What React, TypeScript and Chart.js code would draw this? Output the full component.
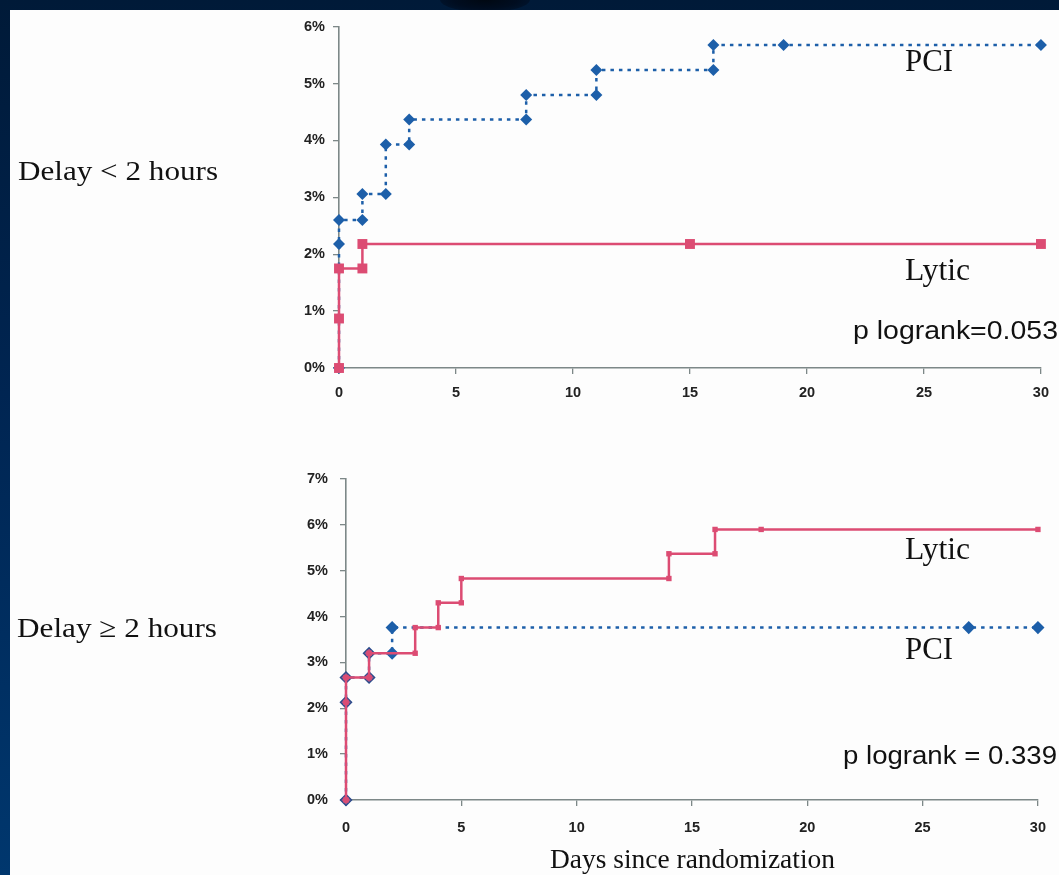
import React, { useEffect, useLayoutEffect, useRef } from 'react';
import { Chart, registerables } from 'chart.js';

Chart.register(...registerables);

// ---------- Data (days since randomization, cumulative event %) ----------
const TOP_PCI_DAYS = [0, 0, 0, 1, 1, 2, 2, 3, 3, 8, 8, 11, 11, 16, 16, 19, 30];
const TOP_PCI_PCT = [0, 2.18, 2.6, 2.6, 3.06, 3.06, 3.93, 3.93, 4.37, 4.37, 4.8, 4.8, 5.24, 5.24, 5.68, 5.68, 5.68];
const TOP_LYTIC_DAYS = [0, 0, 0, 1, 1, 15, 30];
const TOP_LYTIC_PCT = [0, 0.87, 1.75, 1.75, 2.18, 2.18, 2.18];

const BOT_PCI_DAYS = [0, 0, 0, 1, 1, 2, 2, 27, 30];
const BOT_PCI_PCT = [0, 2.13, 2.67, 2.67, 3.2, 3.2, 3.76, 3.76, 3.76];
const BOT_LYTIC_DAYS = [0, 0, 0, 1, 1, 3, 3, 4, 4, 5, 5, 14, 14, 16, 16, 18, 30];
const BOT_LYTIC_PCT = [0, 2.13, 2.67, 2.67, 3.2, 3.2, 3.76, 3.76, 4.3, 4.3, 4.83, 4.83, 5.37, 5.37, 5.9, 5.9, 5.9];

const X_MIN = 0;
const X_MAX = 30;
const X_STEP = 5;
const TOP_Y_MAX = 6;
const BOT_Y_MAX = 7;
const Y_STEP = 1;

const BLUE = '#1d5fa9';
const RED = '#dc4c73';
const MAUVE = '#b25887';
const AXIS = '#7d8888';
const SANS = "'Liberation Sans', Arial, sans-serif";
const SERIF = "'Liberation Serif', 'Times New Roman', serif";

const pts = (xs: number[], ys: number[]) => xs.map((x, i) => ({ x, y: ys[i] }));

function makeOptions(o: {
  yMax: number; yWidth: number; xHeight: number; padTop: number; padRight: number;
  xPad: number; yPad: number;
}): any {
  const tickFont = { family: SANS, size: 14.5, weight: 'bold' };
  return {
    responsive: false,
    animation: false,
    events: [],
    layout: { padding: { left: 0, right: o.padRight, top: o.padTop, bottom: 0 } },
    plugins: { legend: { display: false }, tooltip: { enabled: false } },
    scales: {
      x: {
        type: 'linear',
        min: X_MIN,
        max: X_MAX,
        ticks: { stepSize: X_STEP, padding: o.xPad, color: '#222', font: tickFont },
        grid: { display: true, drawOnChartArea: false, drawTicks: true, tickLength: 6, color: AXIS, lineWidth: 1.3 },
        border: { display: true, color: AXIS, width: 1.6 },
        afterFit: (s: any) => { s.height = o.xHeight; },
      },
      y: {
        type: 'linear',
        min: 0,
        max: o.yMax,
        ticks: {
          stepSize: Y_STEP, padding: o.yPad, color: '#222', font: tickFont,
          callback: (v: any) => `${v}%`,
        },
        grid: { display: true, drawOnChartArea: false, drawTicks: true, tickLength: 6, color: AXIS, lineWidth: 1.3 },
        border: { display: true, color: AXIS, width: 1.6 },
        afterFit: (s: any) => { s.width = o.yWidth; },
      },
    },
  };
}

function Label(props: { text: string; x: number; baseline: number; size: number; family: string; width: number }) {
  const ref = useRef<HTMLDivElement>(null);
  const k = props.family === SERIF ? 0.8375 : 0.8465;
  useLayoutEffect(() => {
    const el = ref.current;
    if (!el) return;
    el.style.transform = 'none';
    const w = el.getBoundingClientRect().width;
    if (w > 0) el.style.transform = `scaleX(${props.width / w})`;
  }, [props.text, props.width]);
  return (
    <div
      ref={ref}
      style={{
        position: 'absolute',
        left: props.x,
        top: props.baseline - k * props.size,
        fontFamily: props.family,
        fontSize: props.size,
        lineHeight: `${props.size}px`,
        whiteSpace: 'nowrap',
        color: '#111',
        transformOrigin: '0 0',
      }}
    >
      {props.text}
    </div>
  );
}

export default function App() {
  const topRef = useRef<HTMLCanvasElement>(null);
  const botRef = useRef<HTMLCanvasElement>(null);

  useEffect(() => {
    const top = new Chart(topRef.current as HTMLCanvasElement, {
      type: 'line',
      data: {
        datasets: [
          {
            label: 'Lytic',
            data: pts(TOP_LYTIC_DAYS, TOP_LYTIC_PCT),
            borderColor: RED,
            backgroundColor: RED,
            borderWidth: 2.5,
            pointStyle: 'rect',
            pointRadius: 7,
            pointBorderWidth: 0,
            pointBackgroundColor: RED,
            tension: 0,
            clip: false,
          } as any,
          {
            label: 'PCI',
            data: pts(TOP_PCI_DAYS, TOP_PCI_PCT),
            borderColor: BLUE,
            backgroundColor: BLUE,
            borderWidth: 2.5,
            borderDash: [3.5, 5],
            pointStyle: 'rectRot',
            pointRadius: 6,
            pointBorderWidth: 0,
            pointBackgroundColor: BLUE,
            tension: 0,
            clip: false,
          } as any,
        ],
      },
      options: makeOptions({ yMax: TOP_Y_MAX, yWidth: 329, xHeight: 52, padTop: 16, padRight: 16, xPad: 10, yPad: 8 }),
    });

    const pciFill = BOT_PCI_DAYS.map((d) => (d <= 1 ? MAUVE : BLUE));
    const pciBorder = BOT_PCI_DAYS.map((d) => (d <= 1 ? '#2b4c8c' : BLUE));
    const bot = new Chart(botRef.current as HTMLCanvasElement, {
      type: 'line',
      data: {
        datasets: [
          {
            label: 'Lytic',
            data: pts(BOT_LYTIC_DAYS, BOT_LYTIC_PCT),
            borderColor: RED,
            backgroundColor: RED,
            borderWidth: 2.5,
            pointStyle: 'rect',
            pointRadius: 3.8,
            pointBorderWidth: 0,
            pointBackgroundColor: RED,
            tension: 0,
            clip: false,
          } as any,
          {
            label: 'PCI',
            data: pts(BOT_PCI_DAYS, BOT_PCI_PCT),
            borderColor: BLUE,
            backgroundColor: BLUE,
            borderWidth: 2.5,
            borderDash: [3.5, 5],
            pointStyle: 'rectRot',
            pointRadius: 5.5,
            pointBorderWidth: 1.5,
            pointBorderColor: pciBorder,
            pointBackgroundColor: pciFill,
            tension: 0,
            clip: false,
          } as any,
        ],
      },
      options: makeOptions({ yMax: BOT_Y_MAX, yWidth: 336, xHeight: 75, padTop: 59, padRight: 13, xPad: 13, yPad: 12 }),
    });

    return () => {
      top.destroy();
      bot.destroy();
    };
  }, []);

  return (
    <div
      style={{
        position: 'absolute',
        left: 0,
        top: 0,
        width: 1059,
        height: 875,
        overflow: 'hidden',
        background: 'linear-gradient(180deg, #001a38 0%, #002552 45%, #00376e 100%)',
      }}
    >
      <div
        style={{
          position: 'absolute',
          left: 440,
          top: -12,
          width: 90,
          height: 24,
          borderRadius: '50%',
          background: 'radial-gradient(ellipse at center, #000812 0%, #000d20 50%, rgba(0,26,56,0) 100%)',
        }}
      />
      <div style={{ position: 'absolute', left: 10, top: 10, width: 1049, height: 865, background: '#fdfdfd' }} />
      <canvas
        ref={topRef}
        width={1049}
        height={410}
        style={{ position: 'absolute', left: 10, top: 10, width: 1049, height: 410 }}
      />
      <canvas
        ref={botRef}
        width={1049}
        height={455}
        style={{ position: 'absolute', left: 10, top: 420, width: 1049, height: 455 }}
      />
      <Label text="Delay < 2 hours" x={18} baseline={180} size={28} family={SERIF} width={200} />
      <Label text="Delay ≥ 2 hours" x={17} baseline={637.5} size={28} family={SERIF} width={200} />
      <Label text="PCI" x={905} baseline={71} size={31} family={SERIF} width={48} />
      <Label text="Lytic" x={905} baseline={279.5} size={31} family={SERIF} width={65} />
      <Label text="p logrank=0.053" x={853} baseline={339} size={25} family={SANS} width={205} />
      <Label text="Lytic" x={905} baseline={558.5} size={31} family={SERIF} width={65} />
      <Label text="PCI" x={905} baseline={658.5} size={31} family={SERIF} width={48} />
      <Label text="p logrank = 0.339" x={843} baseline={764} size={25} family={SANS} width={214} />
      <Label text="Days since randomization" x={550} baseline={869} size={27} family={SERIF} width={285} />
    </div>
  );
}
